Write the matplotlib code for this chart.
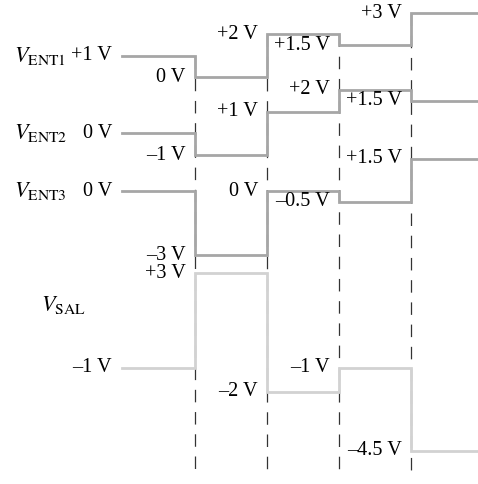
import numpy as np
import matplotlib
matplotlib.use("Agg")
from matplotlib import pyplot as plt

plt.rcParams['mathtext.fontset'] = 'stix'
plt.rcParams['font.family'] = ['Liberation Serif', 'DejaVu Serif']
plt.rcParams['lines.scale_dashes'] = False

# voltage levels per time slot
ent1 = [1, 0, 2, 1.5, 3]
ent2 = [0, -1, 1, 2, 1.5]
ent3 = [0, -3, 0, -0.5, 1.5]
sal = [-1, 3, -2, -1, -4.5]
names = ['ENT1', 'ENT2', 'ENT3', 'SAL']

# layout: drawing is schematic, each trace has its own zero line and px per volt
x0, slot = 122.5, 72.2
bases = [77.0, 133.4, 191.0, 344.2]
px_per_v = [21.3, 21.7, 21.4, 23.7]
colors = ['#a6a6a6', '#a6a6a6', '#a6a6a6', '#d2d2d2']
fs = 14.6


def fmt(v):
    s = ('%g' % abs(v))
    if v > 0:
        return '+' + s + ' V'
    if v < 0:
        return '\u2013' + s + ' V'
    return s + ' V'


fig = plt.figure(figsize=(4.78, 4.84), dpi=100)
ax = fig.add_axes([0, 0, 1, 1])
ax.set_xlim(0, 478)
ax.set_ylim(484, 0)
ax.axis('off')

traces = [ent1, ent2, ent3, sal]
n = len(ent1)
t_edges = np.arange(n + 1)
xe = x0 + slot * t_edges

# dashed transition lines
top = [bases[0] - px_per_v[0] * max(ent1[k - 1], ent1[k]) for k in range(1, n)]
for k in range(1, n):
    ax.plot([xe[k], xe[k]], [top[k - 1], 472], color='#333333', lw=0.9,
            ls=(0, (9, 7)), zorder=1)

for i, lv in enumerate(traces):
    y = bases[i] - px_per_v[i] * np.array(lv, dtype=float)
    ys = np.append(y, y[-1])
    ax.step(xe, ys, where='post', color=colors[i], lw=2.0, zorder=2,
            solid_joinstyle='miter', clip_on=True)
    # first level to the left of the line
    ax.text(112, y[0], fmt(lv[0]), ha='right', va='center', fontsize=fs)
    for k in range(1, n):
        ax.text(xe[k] - 9, y[k], fmt(lv[k]), ha='right', va='center', fontsize=fs)
    if i < 3:
        ax.text(14, y[0], r'$V_{\mathrm{%s}}$' % names[i], ha='left', va='center',
                fontsize=fs + 1.4)
    else:
        ax.text(41, 305, r'$V_{\mathrm{%s}}$' % names[i], ha='left', va='center',
                fontsize=fs + 1.4)

fig.savefig('out.png', dpi=100)
